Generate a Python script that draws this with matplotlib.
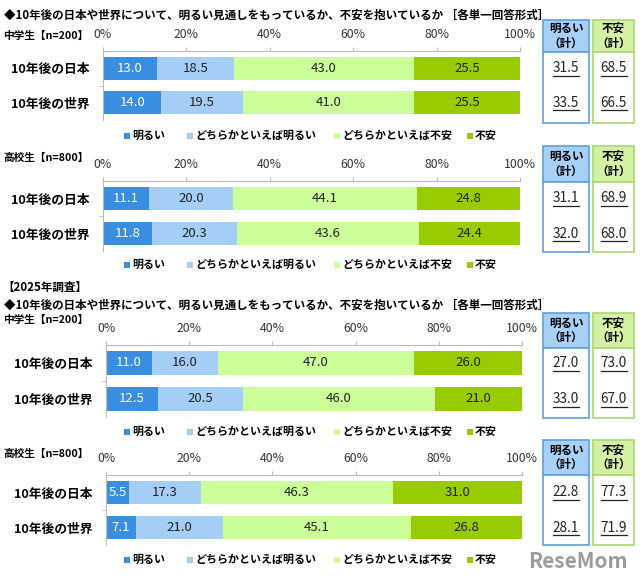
import matplotlib
matplotlib.use("Agg")
import matplotlib.pyplot as plt
from matplotlib.patches import Rectangle

plt.rcParams['font.family'] = ['Noto Sans CJK JP', 'DejaVu Sans']

# --- data ---
categories = ["10年後の日本", "10年後の世界"]
series_names = ["明るい", "どちらかといえば明るい", "どちらかといえば不安", "不安"]

jhs_prev = [[13.0, 18.5, 43.0, 25.5], [14.0, 19.5, 41.0, 25.5]]
hs_prev = [[11.1, 20.0, 44.1, 24.8], [11.8, 20.3, 43.6, 24.4]]
jhs_2025 = [[11.0, 16.0, 47.0, 26.0], [12.5, 20.5, 46.0, 21.0]]
hs_2025 = [[5.5, 17.3, 46.3, 31.0], [7.1, 21.0, 45.1, 26.8]]

bright_total = [[31.5, 33.5], [31.1, 32.0], [27.0, 33.0], [22.8, 28.1]]
anxious_total = [[68.5, 66.5], [68.9, 68.0], [73.0, 67.0], [77.3, 71.9]]

group_labels = ["中学生【n=200】", "高校生【n=800】", "中学生【n=200】", "高校生【n=800】"]
title = "◆10年後の日本や世界について、明るい見通しをもっているか、不安を抱いているか ［各単一回答形式］"
ticks = [0, 20, 40, 60, 80, 100]

colors = ["#3A8EE0", "#A4CEF5", "#CCFF99", "#99CC00"]
text_colors = ["white", "#222222", "#222222", "#222222"]

W, H = 640, 575
fig = plt.figure(figsize=(W / 100, H / 100), dpi=100)

# overlay axes in pixel coordinates for free text / boxes
ov = fig.add_axes([0, 0, 1, 1])
ov.set_xlim(0, W)
ov.set_ylim(H, 0)
ov.axis("off")
ov.set_zorder(5)


def px_rect(l, t, r, b):
    return [l / W, 1 - b / H, (r - l) / W, (b - t) / H]


# layout per panel: axes box, subtitle y, legend y, totals box (header top, header bottom, bottom)
panels = [
    dict(data=jhs_prev, ax=(103, 51, 520, 120), sub=37, leg=136, box=(20, 52, 123)),
    dict(data=hs_prev, ax=(103, 181, 520, 251), sub=159, leg=265, box=(146, 182, 252)),
    dict(data=jhs_2025, ax=(106, 345, 522, 417), sub=321, leg=432, box=(313, 348, 418)),
    dict(data=hs_2025, ax=(106, 475, 522, 545), sub=455, leg=560, box=(440, 475, 545)),
]

ov.text(4, 15, title, fontsize=8.3, fontweight="bold", va="center", ha="left")
ov.text(2, 287, "【2025年調査】", fontsize=8.3, fontweight="bold", va="center", ha="left")
ov.text(4, 305, title, fontsize=8.3, fontweight="bold", va="center", ha="left")

for i, p in enumerate(panels):
    l, t, r, b = p["ax"]
    ax = fig.add_axes(px_rect(l, t, r, b))
    data = p["data"]
    ypos = list(range(len(categories)))
    left = [0.0] * len(categories)
    for s in range(len(series_names)):
        vals = [row[s] for row in data]
        ax.barh(ypos, vals, left=left, height=0.68, color=colors[s], edgecolor="none")
        for y, v, lf in zip(ypos, vals, left):
            ax.text(lf + v / 2, y, f"{v:.1f}", ha="center", va="center",
                    fontsize=9.5, color=text_colors[s])
        left = [a + v for a, v in zip(left, vals)]
    ax.set_xlim(0, 100)
    ax.set_ylim(1.5, -0.5)
    ax.xaxis.tick_top()
    ax.set_xticks(ticks)
    ax.set_xticklabels([f"{v}%" for v in ticks], fontsize=8.8, color="#333333")
    ax.tick_params(axis="x", length=3, color="#BBBBBB", pad=4)
    ax.set_yticks(ypos)
    ax.set_yticklabels(categories, fontsize=9.2, fontweight="bold")
    ax.set_yticks([0.5], minor=True)
    ax.tick_params(axis="y", which="major", length=0, pad=10)
    ax.tick_params(axis="y", which="minor", length=3, color="#BBBBBB")
    for side in ["right", "bottom"]:
        ax.spines[side].set_visible(False)
    for side in ["left", "top"]:
        ax.spines[side].set_color("#BBBBBB")
        ax.spines[side].set_linewidth(0.8)

    # group subtitle
    ov.text(3, p["sub"] - 1, group_labels[i], fontsize=7.7, fontweight="bold", va="center", ha="left")

    # legend
    leg_x = [124, 187, 334, 467]
    for s, name in enumerate(series_names):
        ov.add_patch(Rectangle((leg_x[s], p["leg"] - 3), 6, 6, color=colors[s], lw=0))
        ov.text(leg_x[s] + 8, p["leg"], name, fontsize=7.9, fontweight="bold", va="center", ha="left")

    # totals boxes
    ht, hb, bb = p["box"]
    bar_y = [t + (b - t) * 0.25, t + (b - t) * 0.75]
    boxes = [
        (543, 589, "明るい\n（計）", "#A8D0F5", "#5AA0E0", bright_total[i]),
        (593, 634, "不安\n（計）", "#D3F0A5", "#A8D870", anxious_total[i]),
    ]
    for x0, x1, head, fill, edge, totals in boxes:
        ov.add_patch(Rectangle((x0, ht), x1 - x0, hb - ht, facecolor=fill, edgecolor=edge, lw=1.2))
        ov.add_patch(Rectangle((x0, hb), x1 - x0, bb - hb, facecolor="white", edgecolor=edge, lw=1.2))
        ov.text((x0 + x1) / 2, (ht + hb) / 2, head, fontsize=8.3, fontweight="bold",
                ha="center", va="center", linespacing=1.15)
        for yy, v in zip(bar_y, totals):
            ov.text((x0 + x1) / 2, yy, f"{v:.1f}", fontsize=9.8, ha="center", va="center", color="#222222")
            ov.plot([(x0 + x1) / 2 - 13, (x0 + x1) / 2 + 13], [yy + 7.5, yy + 7.5], color="#222222", lw=0.9)

ov.text(628, 561, "ReseMom", fontsize=15, fontweight="bold", color="#8A8A8A",
        ha="right", va="center", alpha=0.85)

fig.savefig("out.png", dpi=100)
